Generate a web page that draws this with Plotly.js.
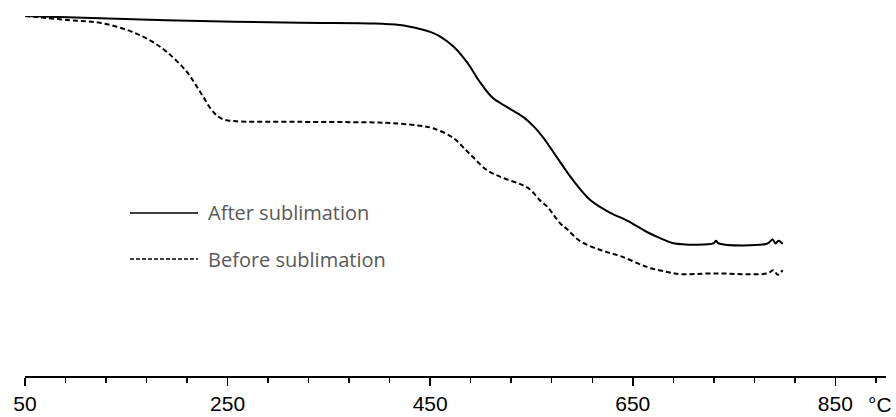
<!DOCTYPE html>
<html>
<head>
<meta charset="utf-8">
<script src="https://cdn.plot.ly/plotly-3.0.1.min.js"></script>
<style>html,body{margin:0;padding:0;background:#fff;}#chart{width:896px;height:417px;}</style>
</head>
<body>
<div id="chart"></div>
<script>
// Temperature (°C) and relative mass (%)
const afterT = [50, 124, 223, 322, 390, 420, 440, 450, 460, 473, 487, 499, 512, 526, 542, 552, 562, 575, 591, 608, 628, 645, 664, 677, 690, 730, 732, 735, 783, 788, 791, 794, 798];
const afterW = [100, 99.4, 98.6, 98.1, 97.95, 97.5, 96.4, 95.6, 94.3, 91.5, 86.9, 81.7, 77.2, 74.7, 71.9, 69.4, 66.1, 60.8, 54.4, 48.9, 45.3, 43.1, 40.0, 38.3, 36.9, 36.9, 37.6, 36.8, 36.8, 37.9, 36.8, 37.6, 36.7];
const beforeT = [50, 91.5, 124, 151, 173, 190, 210, 223, 236, 245, 257, 322, 400, 420, 440, 453, 473, 485, 493, 506, 522, 539, 549, 559, 566, 578, 585, 598, 618, 638, 664, 684, 697, 730, 783, 789, 793, 798];
const beforeW = [100, 98.9, 98.1, 96.1, 93.3, 90.0, 84.4, 78.9, 73.3, 71.4, 70.8, 70.6, 70.4, 70.1, 69.5, 68.8, 66.1, 62.8, 60.6, 57.2, 55.0, 53.3, 51.7, 48.6, 46.9, 42.5, 40.8, 37.5, 35.0, 33.3, 30.3, 28.9, 28.3, 28.5, 28.5, 29.4, 28.1, 29.4];
const tickVals = [50, 250, 450, 650, 850];
const tickText = ['50', '250', '450', '650', '850'];
const seriesNames = ['After sublimation', 'Before sublimation'];

const traces = [
  {x: afterT, y: afterW, mode: 'lines', name: seriesNames[0],
   line: {color: '#000', width: 2, shape: 'spline', smoothing: 1}},
  {x: beforeT, y: beforeW, mode: 'lines', name: seriesNames[1],
   line: {color: '#000', width: 2, dash: '5px,3px', shape: 'spline', smoothing: 1}}
];

const legY1 = 45.3, legY2 = 32.5;
const legFont = {family: 'Open Sans, sans-serif', size: 20, color: '#595959'};
const layout = {
  width: 896, height: 417,
  margin: {l: 25, r: 10, t: 16, b: 41},
  paper_bgcolor: '#fff', plot_bgcolor: '#fff',
  showlegend: false,
  xaxis: {
    range: [50, 900], showgrid: false, zeroline: false,
    showline: true, linecolor: '#000', linewidth: 1.5,
    ticks: 'outside', ticklen: 8, tickwidth: 1.5, tickcolor: '#000',
    tickvals: tickVals, ticktext: tickText,
    ticklabelstandoff: 0,
    tickfont: {family: 'Liberation Sans, Arial, sans-serif', size: 21, color: '#000'},
    minor: {dtick: 40, tick0: 50, ticks: 'outside', ticklen: 5, tickwidth: 1.5, tickcolor: '#000', showgrid: false}
  },
  yaxis: {range: [0, 100], visible: false},
  shapes: [
    {type: 'line', xref: 'x', yref: 'y', x0: 153.7, x1: 220.8, y0: legY1, y1: legY1, line: {color: '#000', width: 1.5}},
    {type: 'line', xref: 'x', yref: 'y', x0: 153.7, x1: 220.8, y0: legY2, y1: legY2, line: {color: '#000', width: 1.5, dash: '4px,2px'}}
  ],
  annotations: [
    {xref: 'x', yref: 'y', x: 228.5, y: legY1, text: seriesNames[0], showarrow: false, xanchor: 'left', yanchor: 'middle', font: legFont},
    {xref: 'x', yref: 'y', x: 228.5, y: legY2, text: seriesNames[1], showarrow: false, xanchor: 'left', yanchor: 'middle', font: legFont},
    {xref: 'paper', yref: 'paper', x: 0.993, y: -0.078, text: '°C', showarrow: false, xanchor: 'center', yanchor: 'middle',
     font: {family: 'Liberation Sans, Arial, sans-serif', size: 21, color: '#000'}}
  ]
};

Plotly.newPlot('chart', traces, layout, {staticPlot: true, displayModeBar: false});
</script>
</body>
</html>
